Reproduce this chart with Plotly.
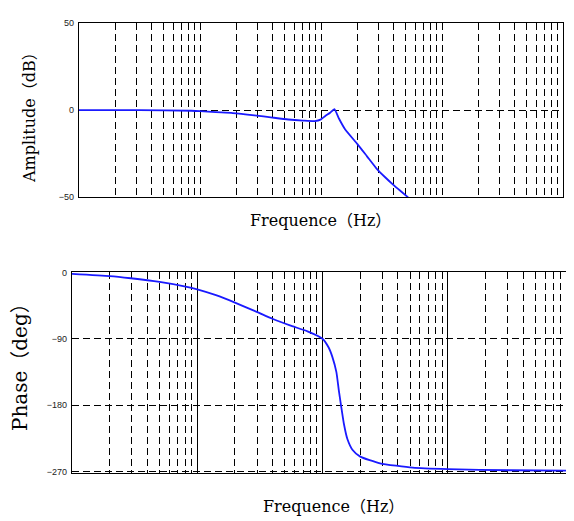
import plotly.graph_objects as go

# ---- data ----
amp_freq_hz = [1, 3.16, 8.51, 10, 13.5, 18.6, 28.2, 39.8, 53.7, 70.8, 89.1, 100, 108, 119, 129, 141, 158, 200, 240, 288, 339, 394, 457, 525]
amp_db = [0, 0, -0.4, -0.6, -1.2, -1.7, -3.0, -4.3, -5.4, -6.0, -6.3, -5.3, -3.5, -1.5, 0.5, -5.0, -11.0, -19.5, -26.5, -33.5, -38.5, -42.7, -46.5, -50.0]

phase_freq_hz = [1, 2, 2.95, 5, 7.9, 10, 14.1, 20, 30.2, 39.8, 55, 75.9, 100, 112, 120, 129, 135, 141, 148, 158, 174, 200, 288, 525, 1000, 3162, 10000]
phase_deg = [-2, -5, -8, -13, -19, -23, -31, -41, -54, -63, -72, -80, -90, -102, -115, -135, -160, -182, -205, -226, -241, -250, -259, -265, -267, -268.5, -269]

amp_ticks = [-50, 0, 50]
phase_ticks = [-270, -180, -90, 0]

decades = [1, 10, 100, 1000, 10000]
minor_vals = [m * d for d in decades[:-1] for m in range(2, 10)]

# page has an 8px body margin; lay out in window pixel coordinates minus that
OFF = 8
W, H = 574 - OFF, 521 - OFF


def px(x):
    return (x - OFF) / W


def py(y):
    return 1 - (y - OFF) / H


fig = go.Figure()
fig.add_trace(go.Scatter(x=amp_freq_hz, y=amp_db, mode="lines",
                         line=dict(color="#1a1aff", width=1.8, shape="spline", smoothing=0.5),
                         xaxis="x", yaxis="y", showlegend=False))
fig.add_trace(go.Scatter(x=phase_freq_hz, y=phase_deg, mode="lines",
                         line=dict(color="#1a1aff", width=1.8, shape="spline", smoothing=0.5),
                         xaxis="x2", yaxis="y2", showlegend=False))

dash = "7px,4px"
tickfont = dict(family="Liberation Sans, Arial", size=9, color="#222")

common_x = dict(type="log", range=[0, 4], showline=True, mirror=True, linecolor="black",
                linewidth=1.2, showticklabels=False, ticks="", zeroline=False)

fig.update_layout(
    width=W, height=H, margin=dict(l=0, r=0, t=0, b=0),
    paper_bgcolor="white", plot_bgcolor="white",
    xaxis=dict(**common_x, domain=[px(79), px(563)], anchor="y",
               tickvals=decades, showgrid=True, gridcolor="black", gridwidth=1, griddash=dash,
               minor=dict(tickvals=minor_vals, showgrid=True, gridcolor="black", gridwidth=1, griddash=dash, ticks="")),
    yaxis=dict(domain=[py(196), py(18)], anchor="x", range=[-50, 50], tickvals=amp_ticks,
               showline=True, mirror=True, linecolor="black", linewidth=1.2, ticks="",
               showgrid=True, gridcolor="black", gridwidth=1, griddash=dash, zeroline=False,
               tickfont=tickfont, ticklabelstandoff=2),
    xaxis2=dict(**common_x, domain=[px(72), min(px(573), 1.0)], anchor="y2",
                tickvals=decades, showgrid=True, gridcolor="black", gridwidth=1,
                minor=dict(tickvals=minor_vals, showgrid=True, gridcolor="black", gridwidth=1, griddash=dash, ticks="")),
    yaxis2=dict(domain=[py(477), py(272.5)], anchor="x2", range=[-272, 0], tickvals=phase_ticks,
                showline=True, mirror=True, linecolor="black", linewidth=1.2, ticks="",
                showgrid=True, gridcolor="black", gridwidth=1, griddash=dash, zeroline=False,
                tickfont=tickfont, ticklabelstandoff=2),
)

serif = "DejaVu Serif, Liberation Serif, Noto Sans CJK SC, serif"
ann = dict(xref="paper", yref="paper", showarrow=False, xanchor="center", yanchor="middle")
fig.add_annotation(text="Amplitude（dB）", x=px(30), y=py(111), textangle=-90,
                   font=dict(family=serif, size=16, color="black"), **ann)
fig.add_annotation(text="Frequence（Hz）", x=px(320), y=py(220),
                   font=dict(family=serif, size=16, color="black"), **ann)
fig.add_annotation(text="Phase（deg）", x=px(20), y=py(364), textangle=-90,
                   font=dict(family=serif, size=20, color="black"), **ann)
fig.add_annotation(text="Frequence（Hz）", x=px(333), y=py(511),
                   font=dict(family=serif, size=16, color="black"), **ann)

fig.write_html("out.html")
